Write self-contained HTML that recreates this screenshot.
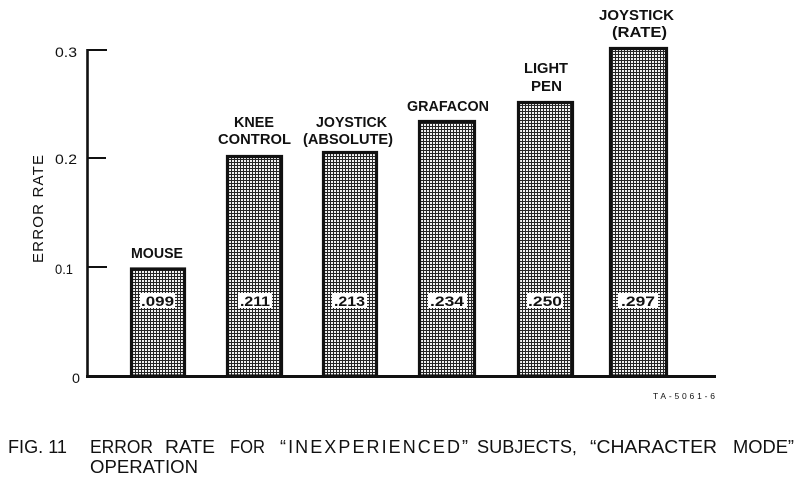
<!DOCTYPE html>
<html>
<head>
<meta charset="utf-8">
<style>
html,body{margin:0;padding:0;background:#fff;}
svg{display:block;}
text{font-family:"Liberation Sans",sans-serif;fill:#111;}
.b{font-weight:bold;}
</style>
</head>
<body>
<svg width="800" height="480" viewBox="0 0 800 480" xmlns="http://www.w3.org/2000/svg">
<defs>
<pattern id="grid" width="3" height="3" patternUnits="userSpaceOnUse">
<rect width="3" height="3" fill="#262626"/>
<rect x="1" y="1" width="2" height="2" fill="#f2f2f2"/>
</pattern>
</defs>
<rect width="800" height="480" fill="#fff"/>

<!-- axes -->
<line x1="87.5" y1="49" x2="87.5" y2="378" stroke="#111" stroke-width="2.6"/>
<line x1="86" y1="376.5" x2="716" y2="376.5" stroke="#111" stroke-width="3"/>
<line x1="87" y1="50" x2="107" y2="50" stroke="#111" stroke-width="2"/>
<line x1="87" y1="158" x2="106" y2="158" stroke="#111" stroke-width="2"/>
<line x1="87" y1="267" x2="107" y2="267" stroke="#111" stroke-width="2"/>

<!-- tick labels -->
<text x="55" y="57" font-size="14" textLength="22" lengthAdjust="spacingAndGlyphs">0.3</text>
<text x="55" y="164" font-size="14" textLength="22" lengthAdjust="spacingAndGlyphs">0.2</text>
<text x="55" y="274" font-size="14" textLength="18" lengthAdjust="spacingAndGlyphs">0.1</text>
<text x="72" y="383" font-size="14" textLength="8" lengthAdjust="spacingAndGlyphs">0</text>

<!-- y axis label -->
<text transform="translate(43,263) rotate(-90)" font-size="15" textLength="108" lengthAdjust="spacing">ERROR RATE</text>

<!-- bars -->
<rect x="131.5" y="269" width="53" height="107" fill="url(#grid)" stroke="#111" stroke-width="3.2"/>
<rect x="227.5" y="156.5" width="54" height="219.5" fill="url(#grid)" stroke="#111" stroke-width="3.2"/>
<rect x="323.5" y="152.5" width="53" height="223.5" fill="url(#grid)" stroke="#111" stroke-width="3.2"/>
<rect x="419.5" y="121.5" width="55" height="254.5" fill="url(#grid)" stroke="#111" stroke-width="3.2"/>
<rect x="518.5" y="102.5" width="54" height="273.5" fill="url(#grid)" stroke="#111" stroke-width="3.2"/>
<rect x="610.5" y="48.5" width="56" height="327.5" fill="url(#grid)" stroke="#111" stroke-width="3.2"/>

<!-- value boxes -->
<rect x="140" y="293" width="35" height="15" fill="#fff"/>
<text class="b" x="141" y="306" font-size="13.5" textLength="33" lengthAdjust="spacingAndGlyphs">.099</text>
<rect x="238" y="293" width="34" height="15" fill="#fff"/>
<text class="b" x="240" y="306" font-size="13.5" textLength="30" lengthAdjust="spacingAndGlyphs">.211</text>
<rect x="332" y="293" width="35" height="15" fill="#fff"/>
<text class="b" x="334" y="306" font-size="13.5" textLength="31" lengthAdjust="spacingAndGlyphs">.213</text>
<rect x="428" y="293" width="39" height="15" fill="#fff"/>
<text class="b" x="430" y="306" font-size="13.5" textLength="34" lengthAdjust="spacingAndGlyphs">.234</text>
<rect x="527" y="293" width="36" height="15" fill="#fff"/>
<text class="b" x="528" y="306" font-size="13.5" textLength="34" lengthAdjust="spacingAndGlyphs">.250</text>
<rect x="618" y="293" width="40" height="15" fill="#fff"/>
<text class="b" x="621" y="306" font-size="13.5" textLength="34" lengthAdjust="spacingAndGlyphs">.297</text>

<!-- bar labels -->
<text class="b" x="131" y="258" font-size="14.5" textLength="52" lengthAdjust="spacingAndGlyphs">MOUSE</text>
<text class="b" x="234" y="127" font-size="14.5" textLength="40" lengthAdjust="spacingAndGlyphs">KNEE</text>
<text class="b" x="218" y="144" font-size="14.5" textLength="73" lengthAdjust="spacingAndGlyphs">CONTROL</text>
<text class="b" x="316" y="127" font-size="14.5" textLength="71" lengthAdjust="spacingAndGlyphs">JOYSTICK</text>
<text class="b" x="303" y="144" font-size="14.5" textLength="90" lengthAdjust="spacingAndGlyphs">(ABSOLUTE)</text>
<text class="b" x="407" y="111" font-size="14.5" textLength="82" lengthAdjust="spacingAndGlyphs">GRAFACON</text>
<text class="b" x="524" y="73" font-size="14.5" textLength="44" lengthAdjust="spacingAndGlyphs">LIGHT</text>
<text class="b" x="531" y="91" font-size="14.5" textLength="31" lengthAdjust="spacingAndGlyphs">PEN</text>
<text class="b" x="599" y="20" font-size="14.5" textLength="75" lengthAdjust="spacingAndGlyphs">JOYSTICK</text>
<text class="b" x="612" y="37" font-size="14.5" textLength="55" lengthAdjust="spacingAndGlyphs">(RATE)</text>

<!-- figure id -->
<text x="653" y="399" font-size="8.5" textLength="62" lengthAdjust="spacing">TA-5061-6</text>

<!-- caption -->
<text x="8" y="453" font-size="18" textLength="59" lengthAdjust="spacingAndGlyphs">FIG. 11</text>
<text x="90" y="453" font-size="18" textLength="63" lengthAdjust="spacingAndGlyphs">ERROR</text>
<text x="165" y="453" font-size="18" textLength="50" lengthAdjust="spacingAndGlyphs">RATE</text>
<text x="230" y="453" font-size="18" textLength="35" lengthAdjust="spacingAndGlyphs">FOR</text>
<text x="280" y="453" font-size="18" textLength="188" lengthAdjust="spacing">“INEXPERIENCED”</text>
<text x="477" y="453" font-size="18" textLength="100" lengthAdjust="spacingAndGlyphs">SUBJECTS,</text>
<text x="590" y="453" font-size="18" textLength="127" lengthAdjust="spacingAndGlyphs">“CHARACTER</text>
<text x="733" y="453" font-size="18" textLength="61" lengthAdjust="spacingAndGlyphs">MODE”</text>
<text x="90" y="473" font-size="18" textLength="108" lengthAdjust="spacingAndGlyphs">OPERATION</text>
</svg>
</body>
</html>
